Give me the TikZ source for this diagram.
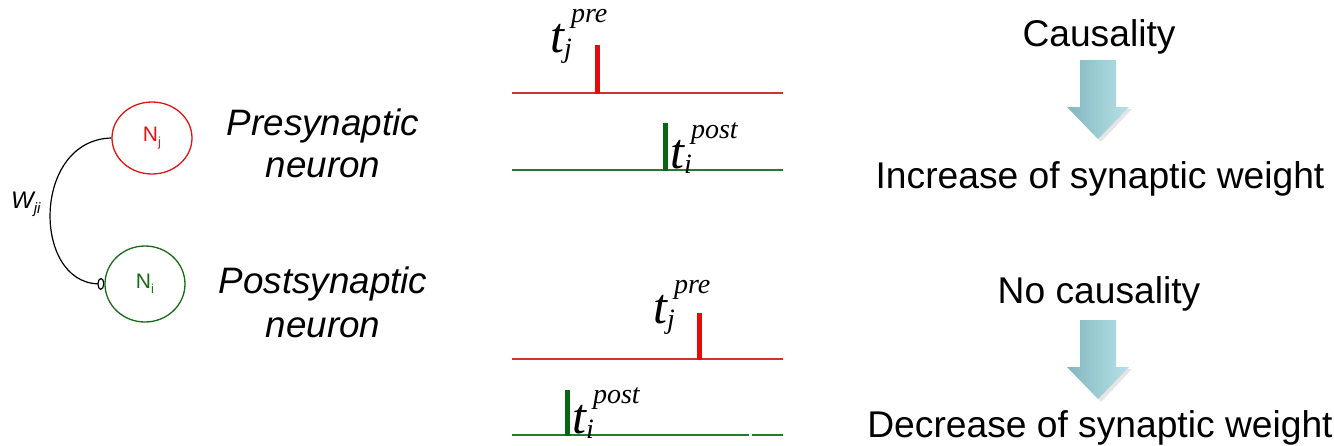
\documentclass[tikz,border=0pt]{standalone}
\usepackage{fontspec}
\setmainfont{Liberation Sans}
\newfontfamily\timesfam{Liberation Serif}
\usetikzlibrary{shapes.geometric,arrows.meta}

\definecolor{nred}{RGB}{225,20,20}
\definecolor{ngreen}{RGB}{25,105,25}
\definecolor{basered}{RGB}{210,50,50}
\definecolor{spkred}{RGB}{230,10,10}
\definecolor{basegreen}{RGB}{40,120,45}
\definecolor{spkgreen}{RGB}{10,100,20}
\definecolor{arrL}{RGB}{132,182,190}
\definecolor{arrR}{RGB}{182,226,232}

% spike-time label: italic t with a superscript and a subscript
\newcommand{\spk}[2]{\timesfam\itshape{\fontsize{50}{50}\selectfont t}\rlap{\kern7pt\raisebox{30pt}{\fontsize{28}{28}\selectfont #1}}\raisebox{-5pt}{\fontsize{28}{28}\selectfont #2}}

% thick block arrow pointing down, top of shaft at #1 (x) / #2 (y)
\newcommand{\blockarrow}[2]{%
  \fill[black,opacity=0.10] (#1-29,#2+49) -- (#1+34,#2+49) -- (#1+3,#2+82) -- cycle;
  \shade[left color=arrL,right color=arrR]
    (#1-18,#2) -- (#1+18,#2) -- (#1+18,#2+47) -- (#1+31,#2+47) -- (#1,#2+79)
    -- (#1-31,#2+47) -- (#1-18,#2+47) -- cycle;
}

\tikzset{
  neuron/.style={ellipse,line width=1.3pt,inner sep=0pt,
    minimum width=80pt,minimum height=72pt,font=\fontsize{21}{21}\selectfont},
  synapse/.style={line width=1.2pt,-{Ellipse[open,length=7pt,width=12pt,line width=1.2pt]}},
  bigtext/.style={anchor=base,inner sep=0pt,font=\fontsize{37.2}{37.2}\selectfont},
  roletext/.style={anchor=base,inner sep=0pt,font=\fontsize{36.8}{36.8}\selectfont\itshape},
  spklabel/.style={anchor=base west,inner sep=0pt},
  baseR/.style={draw=basered,line width=2.6pt},
  baseG/.style={draw=basegreen,line width=2.6pt},
  spikeR/.style={draw=spkred,line width=5pt},
  spikeG/.style={draw=spkgreen,line width=5pt},
}

\begin{document}
\begin{tikzpicture}[x=1pt,y=-1pt]
\fill[white] (0,0) rectangle (1334,445);
\useasboundingbox (0,0) rectangle (1334,445);

% neurons and synapse
\node[neuron,draw=nred,text=nred] (nj) at (152,138)
  {N\raisebox{-5pt}{\fontsize{13}{13}\selectfont j}};
\node[neuron,draw=ngreen,text=ngreen,minimum height=76pt] (ni) at (145,284)
  {N\raisebox{-5pt}{\fontsize{13}{13}\selectfont i}};
\draw[synapse] (nj.west) .. controls (32,140) and (32,282) .. (ni.west);
\node[anchor=base west,inner sep=0pt,font=\fontsize{24}{24}\selectfont\itshape] (wji) at (11,208)
  {W\raisebox{-5pt}{\fontsize{15}{15}\selectfont ji}};

\node[roletext] (pre1) at (323,135) {Presynaptic};
\node[roletext] (pre2) at (323,177) {neuron};
\node[roletext] (post1) at (323,293) {Postsynaptic};
\node[roletext] (post2) at (323,337) {neuron};

% causal pairing: pre before post
\draw[baseR] (512,93) -- (783,93);
\draw[spikeR] (597,94) -- (597,45);
\node[spklabel] (tpre1) at (550,52) {\spk{pre}{j}};
\draw[baseG] (512,170) -- (783,170);
\draw[spikeG] (665,171) -- (665,123);
\node[spklabel] (tpost1) at (670,168) {\spk{post}{i}};

% acausal pairing: post before pre
\draw[baseR] (512,359) -- (783,359);
\draw[spikeR] (699,360) -- (699,313);
\node[spklabel] (tpre2) at (653,323) {\spk{pre}{j}};
\draw[baseG] (512,435) -- (749,435);
\draw[baseG] (752,435) -- (783,435);
\draw[spikeG] (567,436) -- (567,390);
\node[spklabel] (tpost2) at (572,433) {\spk{post}{i}};

% outcomes
\node[bigtext] (caus) at (1099,46) {Causality};
\blockarrow{1098}{60}
\node[bigtext] (inc) at (1100,188) {Increase of synaptic weight};
\node[bigtext] (nocaus) at (1099,303) {No causality};
\blockarrow{1098}{320}
\node[bigtext] (dec) at (1100,437) {Decrease of synaptic weight};
\end{tikzpicture}
\end{document}
